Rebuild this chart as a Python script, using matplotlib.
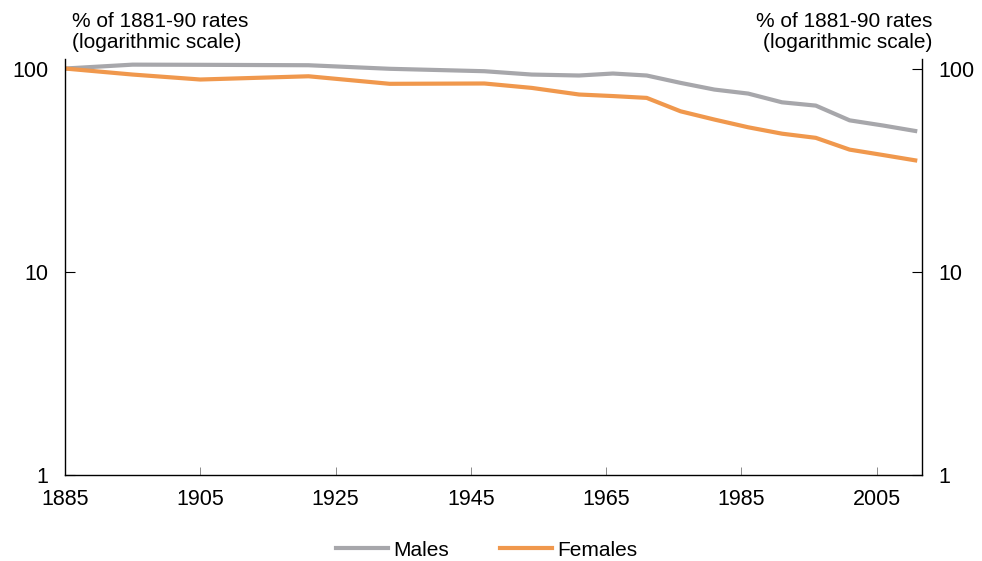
import matplotlib
matplotlib.use("Agg")
import matplotlib.pyplot as plt
from matplotlib.lines import Line2D

plt.rcParams['font.family'] = ['Liberation Sans', 'DejaVu Sans']

# Mid-points of the life-table periods
years = [1885, 1895, 1905, 1921, 1933, 1947, 1954, 1961, 1966, 1971,
         1976, 1981, 1986, 1991, 1996, 2001, 2006, 2011]
# Mortality rates as % of 1881-90 rates
males = [100, 104.5, 104.3, 103.8, 99.7, 97.0, 93.4, 92.4, 94.5, 92.4,
         85.0, 78.8, 75.3, 68.2, 65.7, 55.6, 52.4, 49.1]
females = [100, 93.4, 88.3, 91.6, 84.1, 84.4, 80.3, 74.5, 73.2, 71.7,
           61.6, 56.1, 51.4, 47.8, 45.6, 39.9, 37.5, 35.2]

xticks = [1885, 1905, 1925, 1945, 1965, 1985, 2005]
yticks = [1, 10, 100]
ytick_labels = ["1", "10", "100"]

grey = "#A7A7AB"
orange = "#F0984D"

fig = plt.figure(figsize=(9.82, 5.61), dpi=100)
ax = fig.add_axes([65 / 982, 1 - 475 / 561, (922 - 65) / 982, (475 - 59) / 561])

ax.plot(years, males, color=grey, lw=3.0, solid_capstyle="butt", label="Males")
ax.plot(years, females, color=orange, lw=3.0, solid_capstyle="butt", label="Females")

ax.set_yscale("log")
ax.set_ylim(1, 111.4)
ax.set_xlim(1885, 2011.7)

ax.set_xticks(xticks)
ax.set_xticklabels([str(t) for t in xticks])
ax.set_yticks(yticks)
ax.set_yticklabels(ytick_labels)
ax.minorticks_off()
ax.tick_params(axis="x", direction="in", length=6, width=0.6, color="#777777",
               pad=10, labelsize=15.5)
ax.tick_params(axis="y", direction="in", length=7, width=0.8, pad=12,
               labelsize=15.5, left=True, right=True, labelleft=True,
               labelright=True)
ax.yaxis.set_minor_locator(matplotlib.ticker.NullLocator())

ax.spines["top"].set_visible(False)
for s in ("left", "right", "bottom"):
    ax.spines[s].set_linewidth(1.0)
    ax.spines[s].set_color("black")

fig.text(72 / 982, 1 - 12 / 561, "% of 1881-90 rates\n(logarithmic scale)",
         ha="left", va="top", fontsize=15, linespacing=1.12)
fig.text(932 / 982, 1 - 12 / 561, "% of 1881-90 rates\n(logarithmic scale)",
         ha="right", va="top", fontsize=15, linespacing=1.12, multialignment="right")

handles = [Line2D([], [], color=grey, lw=3.0), Line2D([], [], color=orange, lw=3.0)]
fig.legend(handles, ["Males", "Females"], loc="center", bbox_to_anchor=(487 / 982, 1 - 550 / 561),
           ncol=2, frameon=False, fontsize=15, handlelength=2.5, handletextpad=0.25,
           columnspacing=2.45)

fig.savefig("out.png", dpi=100)
